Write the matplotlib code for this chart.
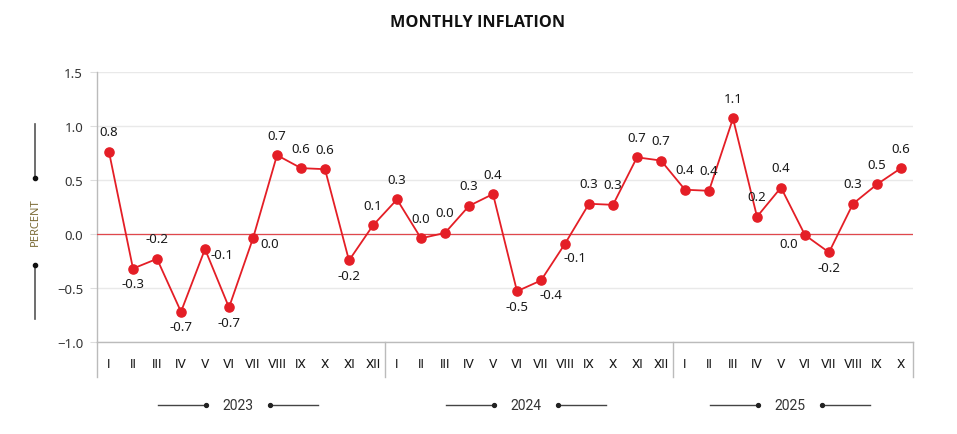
import matplotlib
matplotlib.use("Agg")
import matplotlib.pyplot as plt
from matplotlib.lines import Line2D

plt.rcParams['font.family'] = ['Noto Sans', 'DejaVu Sans']

months_2023 = ["I", "II", "III", "IV", "V", "VI", "VII", "VIII", "IX", "X", "XI", "XII"]
months_2024 = ["I", "II", "III", "IV", "V", "VI", "VII", "VIII", "IX", "X", "XI", "XII"]
months_2025 = ["I", "II", "III", "IV", "V", "VI", "VII", "VIII", "IX", "X"]
years = ["2023", "2024", "2025"]

inflation_2023 = [0.76, -0.32, -0.23, -0.72, -0.14, -0.68, -0.04, 0.73, 0.61, 0.60, -0.245, 0.08]
inflation_2024 = [0.32, -0.04, 0.01, 0.26, 0.37, -0.53, -0.43, -0.09, 0.28, 0.27, 0.71, 0.68]
inflation_2025 = [0.41, 0.40, 1.07, 0.16, 0.43, -0.01, -0.17, 0.28, 0.46, 0.61]

yticks = [-1.0, -0.5, 0.0, 0.5, 1.0, 1.5]

# label placement per point (style only)
placement = (["above", "below", "above", "below", "right", "below", "right", "above", "above", "above", "below", "above"]
             + ["above", "above", "above", "above", "above", "below", "belowright", "belowright", "above", "above", "above", "above"]
             + ["above", "above", "above", "above", "above", "left", "below", "above", "above", "above"])

labels = months_2023 + months_2024 + months_2025
values = inflation_2023 + inflation_2024 + inflation_2025
group_sizes = [len(months_2023), len(months_2024), len(months_2025)]
x = list(range(len(values)))

fig = plt.figure(figsize=(9.57, 4.35), dpi=100)
ax = fig.add_axes([97/957, 1-343/435, 816/957, 270/435])

red = "#e41e26"
ax.plot(x, values, color=red, lw=1.3, marker="o", ms=6.6, mec=red, mfc=red, zorder=4, clip_on=False)
ax.axhline(0, color="#e0474c", lw=0.9, zorder=3)

ax.set_xlim(-0.5, len(values) - 0.5)
ax.set_ylim(-1.0, 1.5)
ax.set_yticks(yticks)
ax.set_yticklabels([f"{t:.1f}".replace("-", "\u2212") for t in yticks])
ax.yaxis.grid(True, color="#e9e9e9", lw=1.0, zorder=0)
ax.set_axisbelow(True)
ax.tick_params(axis="y", length=5, color="#dddddd", pad=5, labelsize=9.5, labelcolor="#333333")
ax.set_xticks(x)
ax.set_xticklabels(labels, fontfamily=["Roboto", "DejaVu Sans"])
ax.tick_params(axis="x", length=0, pad=11, labelsize=9.5, labelcolor="#1a1a1a")

for s in ["top", "right"]:
    ax.spines[s].set_visible(False)
ax.spines["left"].set_color("#bbbbbb")
ax.spines["bottom"].set_color("#bbbbbb")
ax.spines["left"].set_linewidth(1.0)
ax.spines["bottom"].set_linewidth(1.0)

# data labels
offsets = {
    "above": (0, 20, "center"),
    "below": (0, -15, "center"),
    "right": (17, -5, "center"),
    "left": (-16, -8, "center"),
    "belowright": (10, -14, "center"),
}
for xi, v, p in zip(x, values, placement):
    txt = f"{v:.1f}"
    if txt == "-0.0":
        txt = "0.0"
    dx, dy, ha = offsets[p]
    ax.annotate(txt, (xi, v), xytext=(dx * 0.72, dy * 0.72), textcoords="offset points",
                ha=ha, va="center", fontsize=9.5, color="#1a1a1a", zorder=5)

# bottom band separators
trans = ax.get_xaxis_transform()
band_bottom = -35 / 270
bounds = [-0.5]
acc = -0.5
for g in group_sizes:
    acc += g
    bounds.append(acc)
for b in bounds:
    ax.add_line(Line2D([b, b], [0, band_bottom], transform=trans, color="#bbbbbb", lw=1.0, clip_on=False))

# year labels with decorative lines
start = 0
unit = 816 / len(values)  # pixels per category
for yr, g in zip(years, group_sizes):
    c = start + (g - 1) / 2 - 0.12
    yy = -63 / 270
    ax.text(c, yy, yr, transform=trans, ha="center", va="center", fontsize=10, color="#333333",
            fontfamily=["Roboto", "DejaVu Sans"])
    inner = 32 / unit
    outer = 80 / unit
    ax.add_line(Line2D([c - outer, c - inner], [yy, yy], transform=trans, color="#444444", lw=1.0, clip_on=False))
    ax.add_line(Line2D([c + inner, c + outer], [yy, yy], transform=trans, color="#444444", lw=1.0, clip_on=False))
    ax.add_line(Line2D([c - inner, c + inner], [yy, yy], transform=trans, ls="none", marker="o", ms=2.8,
                       color="#222222", clip_on=False))
    start += g

# y-axis label with decorative lines
fig.text(35/957, 1 - 222/435, "PERCENT", rotation=90, ha="center", va="center", fontsize=8, color="#7a6a35")
fig.add_artist(Line2D([35/957, 35/957], [1 - 125/435, 1 - 179/435], color="#555555", lw=1.2))
fig.add_artist(Line2D([35/957, 35/957], [1 - 266/435, 1 - 320/435], color="#555555", lw=1.2))
fig.add_artist(Line2D([35/957], [1 - 179/435], marker="o", ms=3, color="#111111", ls="none"))
fig.add_artist(Line2D([35/957], [1 - 266/435], marker="o", ms=3, color="#111111", ls="none"))

fig.text(478/957, 1 - 23/435, "MONTHLY INFLATION", ha="center", va="center", fontsize=11.7,
         fontweight="bold", color="#111111", fontfamily=["Open Sans", "DejaVu Sans"])

fig.savefig("out.png", dpi=100, facecolor="white")
